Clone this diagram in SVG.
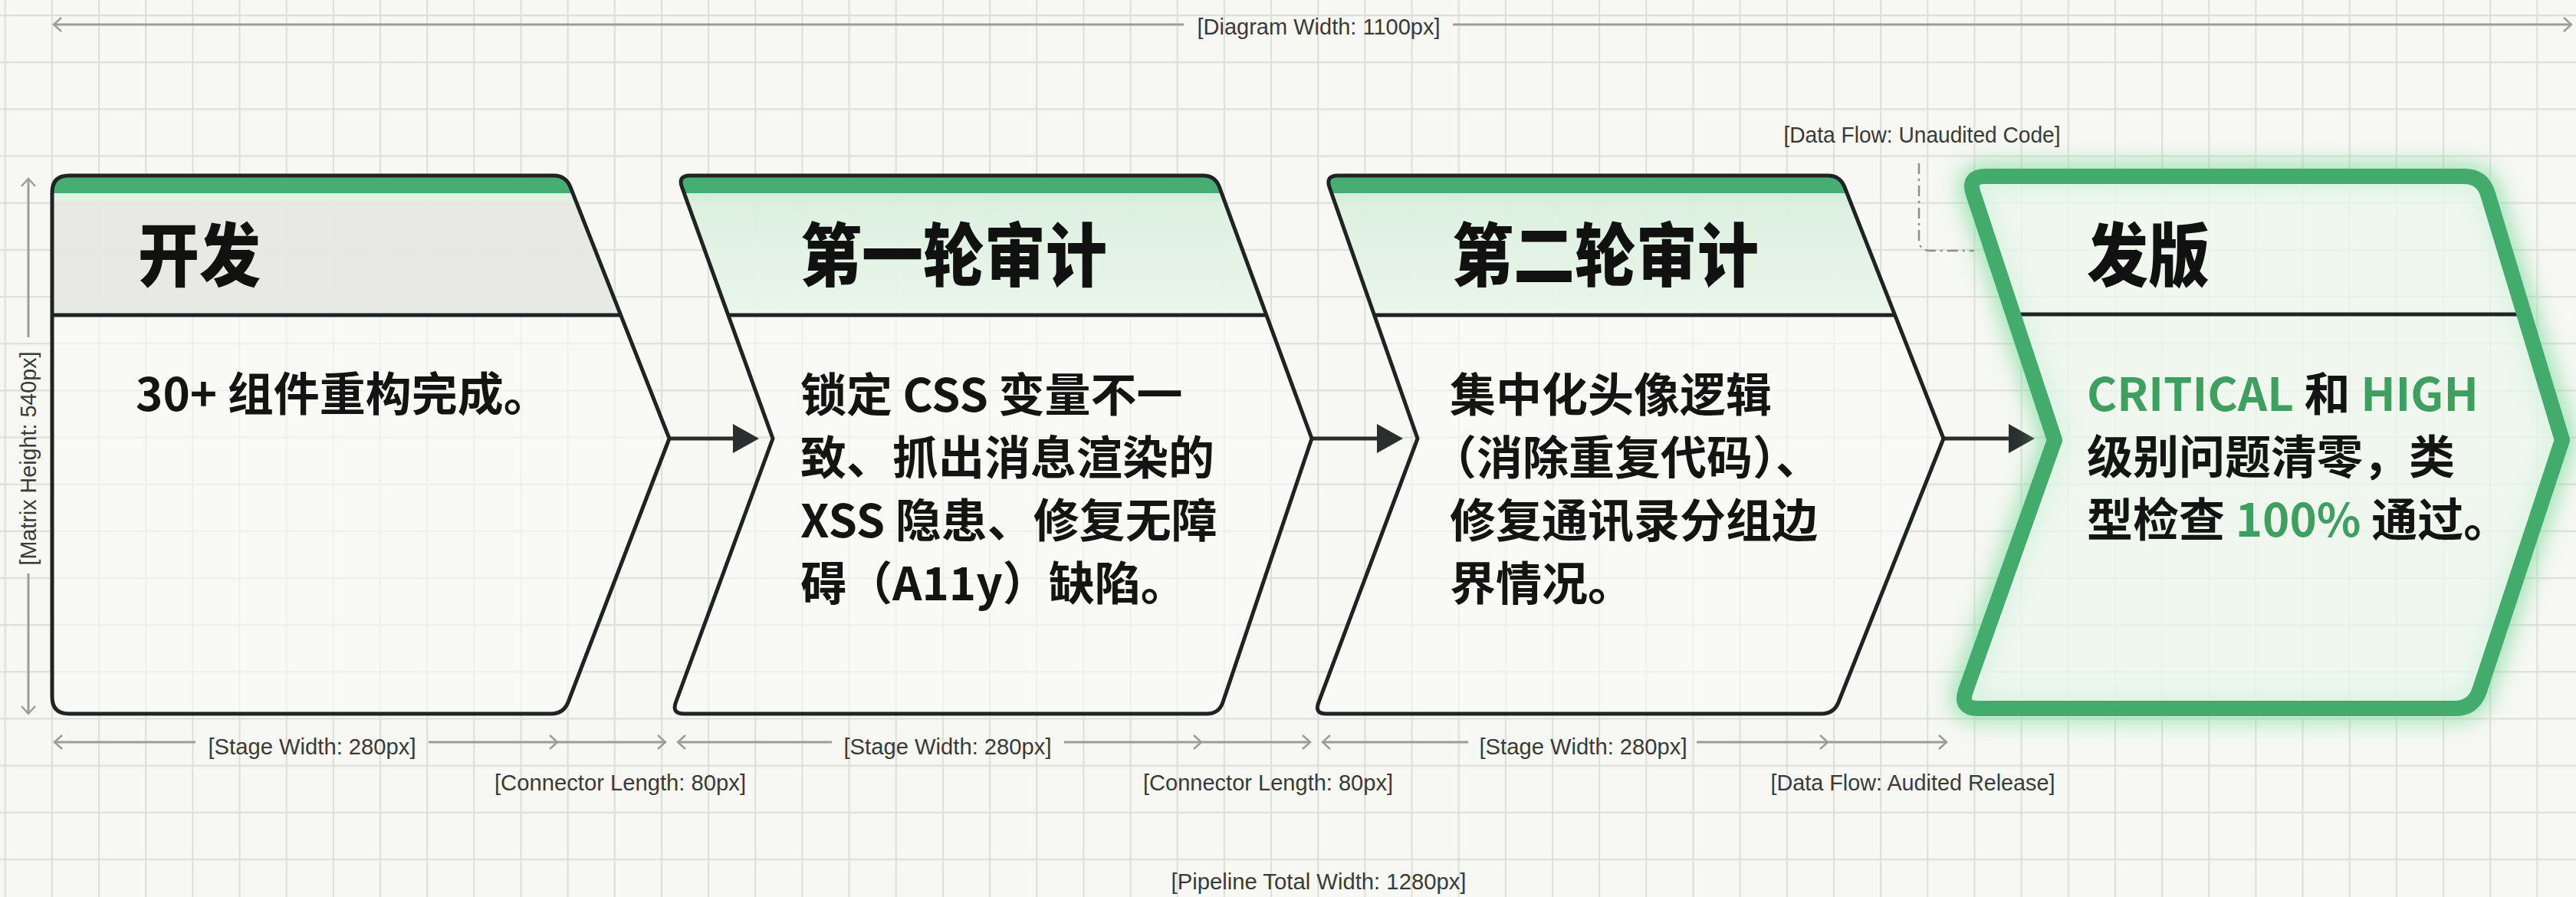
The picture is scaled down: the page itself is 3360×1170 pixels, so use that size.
<svg xmlns="http://www.w3.org/2000/svg" xmlns:xlink="http://www.w3.org/1999/xlink" width="3360" height="1170" viewBox="0 0 3360 1170">
<style>
.outline{fill:none;stroke:#1f2323;stroke-width:5;stroke-linejoin:round}
.bodyfill{fill:#fcfcfa;fill-opacity:0.55}
.title{font-family:"Noto Sans CJK SC","Noto Sans",sans-serif;font-weight:900;font-size:80px;fill:#111}
.txt{font-family:"Noto Sans CJK SC","Noto Sans",sans-serif;font-weight:700;font-size:60px;fill:#141414}
.grn{fill:#3f9f60}
.dim{font-family:"Liberation Sans Narrow","Liberation Sans",Arial,sans-serif;font-size:30px;fill:#3a3a3a;text-anchor:middle}
.dl{stroke:#9c9c9c;stroke-width:3;fill:none}
.divider{stroke:#1f2323;stroke-width:5}
.conn{stroke:#2a2e2e;stroke-width:5;fill:none}
.head{fill:#2a2e2e}
</style>
<defs>
<pattern id="grid" x="5.7" y="19" width="61.16" height="61.16" patternUnits="userSpaceOnUse">
<path d="M0,1 H61.16 M1,0 V61.16" stroke="#dfdfd9" stroke-width="2.2" fill="none"/>
</pattern>
<marker id="chev" viewBox="0 0 14 22" refX="12" refY="11" markerWidth="14" markerHeight="22" markerUnits="userSpaceOnUse" orient="auto-start-reverse">
<path d="M2,2 L12,11 L2,20" fill="none" stroke="#9c9c9c" stroke-width="2.5"/>
</marker>
<linearGradient id="hdrGreen" x1="0" y1="0" x2="0" y2="1">
<stop offset="0" stop-color="#d6eeda"/>
<stop offset="1" stop-color="#e9f5eb"/>
</linearGradient>
<filter id="glow" x="-10%" y="-10%" width="120%" height="120%">
<feGaussianBlur stdDeviation="14"/>
</filter>
<path id="p1" d="M90,229 L722,229 Q738,229 744,244 L873,572 L741,916 Q735,931 719,931 L90,931 Q68,931 68,909 L68,251 Q68,229 90,229 Z"/>
<path id="p2" d="M900,229 L1569,229 Q1585,229 1590.5,244 L1711,572 L1595,916 Q1590,931 1574,931 L892,931 Q876,931 881.5,916 L1008,572 L889.5,244 Q884,229 900,229 Z"/>
<path id="p3" d="M1745,229 L2384,229 Q2400,229 2406,244 L2535,572 L2398,916 Q2392,931 2376,931 L1730,931 Q1714,931 1720,916 L1849,572 L1734,244 Q1729,229 1745,229 Z"/>
<path id="p4" d="M2590,230 L3214,230 Q3238,230 3245,253 L3342,574 L3234,901 Q3226,924 3202,924 L2580,924 Q2556,924 2564,901 L2680,574 L2574,253 Q2566,230 2590,230 Z"/>
<clipPath id="c1"><use xlink:href="#p1"/></clipPath>
<clipPath id="c2"><use xlink:href="#p2"/></clipPath>
<clipPath id="c3"><use xlink:href="#p3"/></clipPath>
<clipPath id="c4"><use xlink:href="#p4"/></clipPath>
</defs>

<rect x="0" y="0" width="3360" height="1170" fill="#f7f7f3"/>
<rect x="0" y="0" width="3360" height="1170" fill="url(#grid)"/>

<g id="dimensions">
<line class="dl" x1="70" y1="32" x2="1544" y2="32" marker-start="url(#chev)"/>
<line class="dl" x1="1895" y1="32" x2="3354" y2="32" marker-end="url(#chev)"/>
<text class="dim" x="1720" y="45" textLength="317" lengthAdjust="spacingAndGlyphs">[Diagram Width: 1100px]</text>

<line class="dl" x1="37" y1="233" x2="37" y2="440" marker-start="url(#chev)"/>
<line class="dl" x1="37" y1="748" x2="37" y2="931" marker-end="url(#chev)"/>
<text class="dim" transform="translate(47,598) rotate(-90)" x="0" y="0" textLength="279" lengthAdjust="spacingAndGlyphs">[Matrix Height: 540px]</text>

<line class="dl" x1="71" y1="968" x2="255" y2="968" marker-start="url(#chev)"/>
<line class="dl" x1="559" y1="968" x2="727" y2="968" marker-end="url(#chev)"/>
<line class="dl" x1="727" y1="968" x2="868" y2="968" marker-end="url(#chev)"/>
<text class="dim" x="407" y="984" textLength="271" lengthAdjust="spacingAndGlyphs">[Stage Width: 280px]</text>

<line class="dl" x1="884" y1="968" x2="1085" y2="968" marker-start="url(#chev)"/>
<line class="dl" x1="1388" y1="968" x2="1567" y2="968" marker-end="url(#chev)"/>
<line class="dl" x1="1567" y1="968" x2="1709" y2="968" marker-end="url(#chev)"/>
<text class="dim" x="1236" y="984" textLength="271" lengthAdjust="spacingAndGlyphs">[Stage Width: 280px]</text>

<line class="dl" x1="1725" y1="968" x2="1915" y2="968" marker-start="url(#chev)"/>
<line class="dl" x1="2213" y1="968" x2="2384" y2="968" marker-end="url(#chev)"/>
<line class="dl" x1="2384" y1="968" x2="2539" y2="968" marker-end="url(#chev)"/>
<text class="dim" x="2065" y="984" textLength="271" lengthAdjust="spacingAndGlyphs">[Stage Width: 280px]</text>

<text class="dim" x="809" y="1031" textLength="328" lengthAdjust="spacingAndGlyphs">[Connector Length: 80px]</text>
<text class="dim" x="1654" y="1031" textLength="326" lengthAdjust="spacingAndGlyphs">[Connector Length: 80px]</text>
<text class="dim" x="2495" y="1031" textLength="371" lengthAdjust="spacingAndGlyphs">[Data Flow: Audited Release]</text>
<text class="dim" x="2507" y="186" textLength="361" lengthAdjust="spacingAndGlyphs">[Data Flow: Unaudited Code]</text>
<text class="dim" x="1720" y="1160" textLength="385" lengthAdjust="spacingAndGlyphs">[Pipeline Total Width: 1280px]</text>
</g>

<g id="connectors">
<line class="conn" x1="873" y1="572" x2="960" y2="572"/>
<polygon class="head" points="956,553 990,572 956,591"/>
<line class="conn" x1="1711" y1="572" x2="1800" y2="572"/>
<polygon class="head" points="1796,553 1830,572 1796,591"/>
<line class="conn" x1="2535" y1="572" x2="2624" y2="572"/>
<polygon class="head" points="2620,553 2654,572 2620,591"/>
<path d="M2503,213 L2503,312 Q2503,327 2518,327 L2575,327" fill="none" stroke="#8e8e8e" stroke-width="2.5" stroke-dasharray="14,6,3,6"/>
</g>

<g id="stage-dev">
<use xlink:href="#p1" class="bodyfill"/>
<g clip-path="url(#c1)">
<rect x="60" y="229" width="830" height="182" fill="#e5e5e2" fill-opacity="0.85"/>
<rect x="60" y="252" width="830" height="10" fill="#dcf3e3"/>
<rect x="60" y="225" width="830" height="27" fill="#46ae72"/>
<line class="divider" x1="60" y1="411" x2="900" y2="411"/>
</g>
<use xlink:href="#p1" class="outline"/>
<text class="title" transform="translate(180,366) scale(1,1.12)">开发</text>
<text class="txt" x="177" y="536">30+ 组件重构完成。</text>
</g>

<g id="stage-audit1">
<use xlink:href="#p2" class="bodyfill"/>
<g clip-path="url(#c2)">
<rect x="870" y="229" width="850" height="182" fill="url(#hdrGreen)" fill-opacity="0.9"/>
<rect x="870" y="252" width="850" height="10" fill="#d4f0dc"/>
<rect x="870" y="225" width="850" height="27" fill="#46ae72"/>
<line class="divider" x1="870" y1="411" x2="1720" y2="411"/>
</g>
<use xlink:href="#p2" class="outline"/>
<text class="title" transform="translate(1044,366) scale(1,1.12)">第一轮审计</text>
<text class="txt" x="1044" y="537">锁定 CSS 变量不一</text>
<text class="txt" x="1044" y="619">致、抓出消息渲染的</text>
<text class="txt" x="1044" y="701">XSS 隐患、修复无障</text>
<text class="txt" x="1044" y="783">碍（A11y）缺陷。</text>
</g>

<g id="stage-audit2">
<use xlink:href="#p3" class="bodyfill"/>
<g clip-path="url(#c3)">
<rect x="1700" y="229" width="850" height="182" fill="url(#hdrGreen)" fill-opacity="0.9"/>
<rect x="1700" y="252" width="850" height="10" fill="#d4f0dc"/>
<rect x="1700" y="225" width="850" height="27" fill="#46ae72"/>
<line class="divider" x1="1700" y1="411" x2="2550" y2="411"/>
</g>
<use xlink:href="#p3" class="outline"/>
<text class="title" transform="translate(1894,366) scale(1,1.12)">第二轮审计</text>
<text class="txt" x="1891" y="537">集中化头像逻辑</text>
<text class="txt" x="1866" y="619">（消除重复代码）、</text>
<text class="txt" x="1891" y="701">修复通讯录分组边</text>
<text class="txt" x="1891" y="783">界情况。</text>
</g>

<g id="stage-release">
<use xlink:href="#p4" fill="none" stroke="#7fdca0" stroke-width="34" stroke-opacity="0.75" filter="url(#glow)"/>
<use xlink:href="#p4" fill="#ecf7ee" fill-opacity="0.75"/>
<g clip-path="url(#c4)">
<line class="divider" x1="2550" y1="410" x2="3350" y2="410"/>
</g>
<use xlink:href="#p4" fill="none" stroke="#43ab6c" stroke-width="20" stroke-linejoin="round"/>
<text class="title" transform="translate(2722,366) scale(1,1.12)">发版</text>
<text class="txt" x="2722" y="536"><tspan class="grn">CRITICAL</tspan> 和 <tspan class="grn">HIGH</tspan></text>
<text class="txt" x="2722" y="618">级别问题清零，类</text>
<text class="txt" x="2722" y="700">型检查 <tspan class="grn">100%</tspan> 通过。</text>
</g>
</svg>
